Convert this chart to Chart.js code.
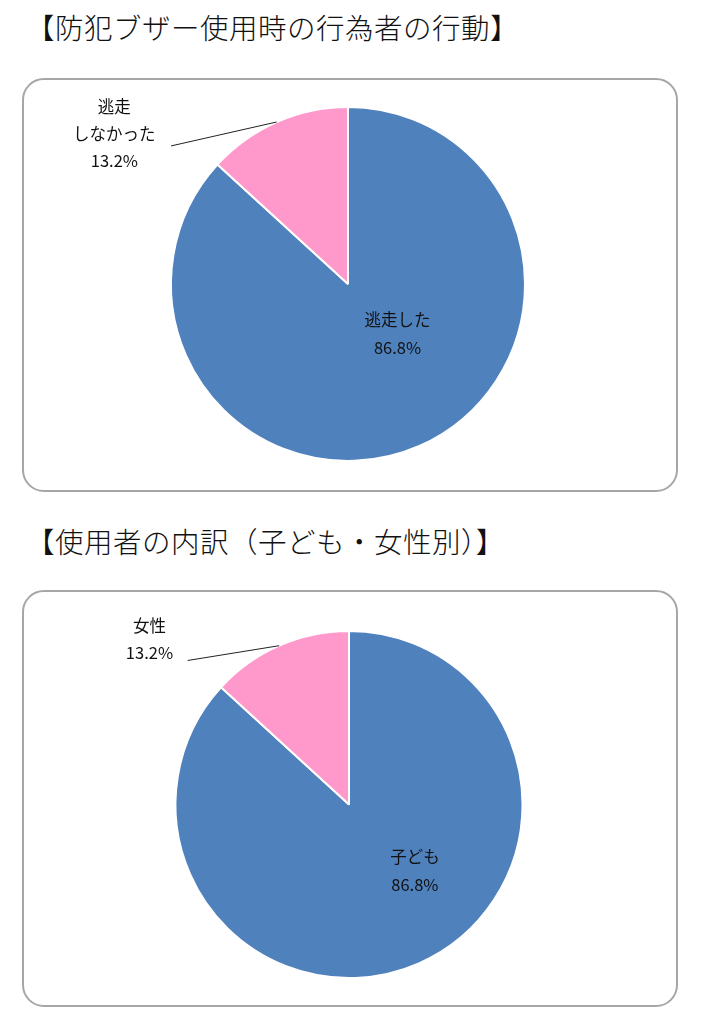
<!DOCTYPE html>
<html><head><meta charset="utf-8">
<script src="https://cdn.jsdelivr.net/npm/chart.js@4"></script>
<style>
body{margin:0;background:#fff;width:707px;height:1024px;position:relative;font-family:"Noto Sans CJK JP",sans-serif;}
.t{position:absolute;left:26px;font-size:28.5px;font-weight:300;color:#111;white-space:nowrap;letter-spacing:0.5px}
.box{position:absolute;left:22px;width:652px;border:2px solid #a6a6a6;border-radius:22px;background:#fff}
canvas{display:block}
</style></head><body>
<div class="t" style="top:6px">【防犯ブザー使用時の行為者の行動】</div>
<div class="box" style="top:78px;height:410px"><canvas id="c1"></canvas></div>
<div class="t" style="top:520px">【使用者の内訳（子ども・女性別）】</div>
<div class="box" style="top:590px;height:413px"><canvas id="c2"></canvas></div>
<script>
const labels1=["逃走した","逃走しなかった"];
const values1=[86.8,13.2];
const labels2=["子ども","女性"];
const values2=[86.8,13.2];
const colors=["#4F81BD","#FF99CC"];

const labelPlugin={id:'lbl',afterDraw(chart,args,o){
  const ctx=chart.ctx,arcs=chart.getDatasetMeta(0).data;
  const a0=arcs[0],a1=arcs[1],cx=a0.x,cy=a0.y,r=a0.outerRadius;
  ctx.save();ctx.fillStyle='#111';ctx.font='16.5px "Noto Sans CJK JP"';ctx.textAlign='center';ctx.textBaseline='middle';
  o.inner.forEach((s,i)=>ctx.fillText(s,cx+o.inPos[0]*r,cy+o.inPos[1]*r+i*28));
  const m=(a1.startAngle+a1.endAngle)/2;
  const px=cx+Math.cos(m)*r,py=cy+Math.sin(m)*r;
  const lx=cx+o.outPos[0]*r,ly=cy+o.outPos[1]*r;
  o.outer.forEach((s,i)=>ctx.fillText(s,lx,ly+i*27));
  ctx.strokeStyle='#222';ctx.lineWidth=1;ctx.beginPath();
  ctx.moveTo(cx+o.lineStart[0]*r,cy+o.lineStart[1]*r);ctx.lineTo(px,py);ctx.stroke();
  ctx.restore();
}};
function make(id,labels,values,opt,pad){
  new Chart(document.getElementById(id),{type:'pie',
    data:{labels,datasets:[{data:values,backgroundColor:colors,borderColor:'#fff',borderWidth:2}]},
    options:{responsive:true,maintainAspectRatio:false,animation:false,
      layout:{padding:pad},
      plugins:{legend:{display:false},tooltip:{enabled:false},lbl:opt}},
    plugins:[labelPlugin]});
}
make('c1',labels1,values1,{inner:["逃走した","86.8%"],inPos:[0.28,0.2],
  outer:["逃走","しなかった","13.2%"],outPos:[-1.32,-1.0],lineStart:[-1.0,-0.78]},{top:26,bottom:28,left:0,right:4});
make('c2',labels2,values2,{inner:["子ども","86.8%"],inPos:[0.38,0.3],
  outer:["女性","13.2%"],outPos:[-1.15,-1.03],lineStart:[-0.93,-0.83]},{top:38,bottom:26,left:0,right:2});
</script>
</body></html>
